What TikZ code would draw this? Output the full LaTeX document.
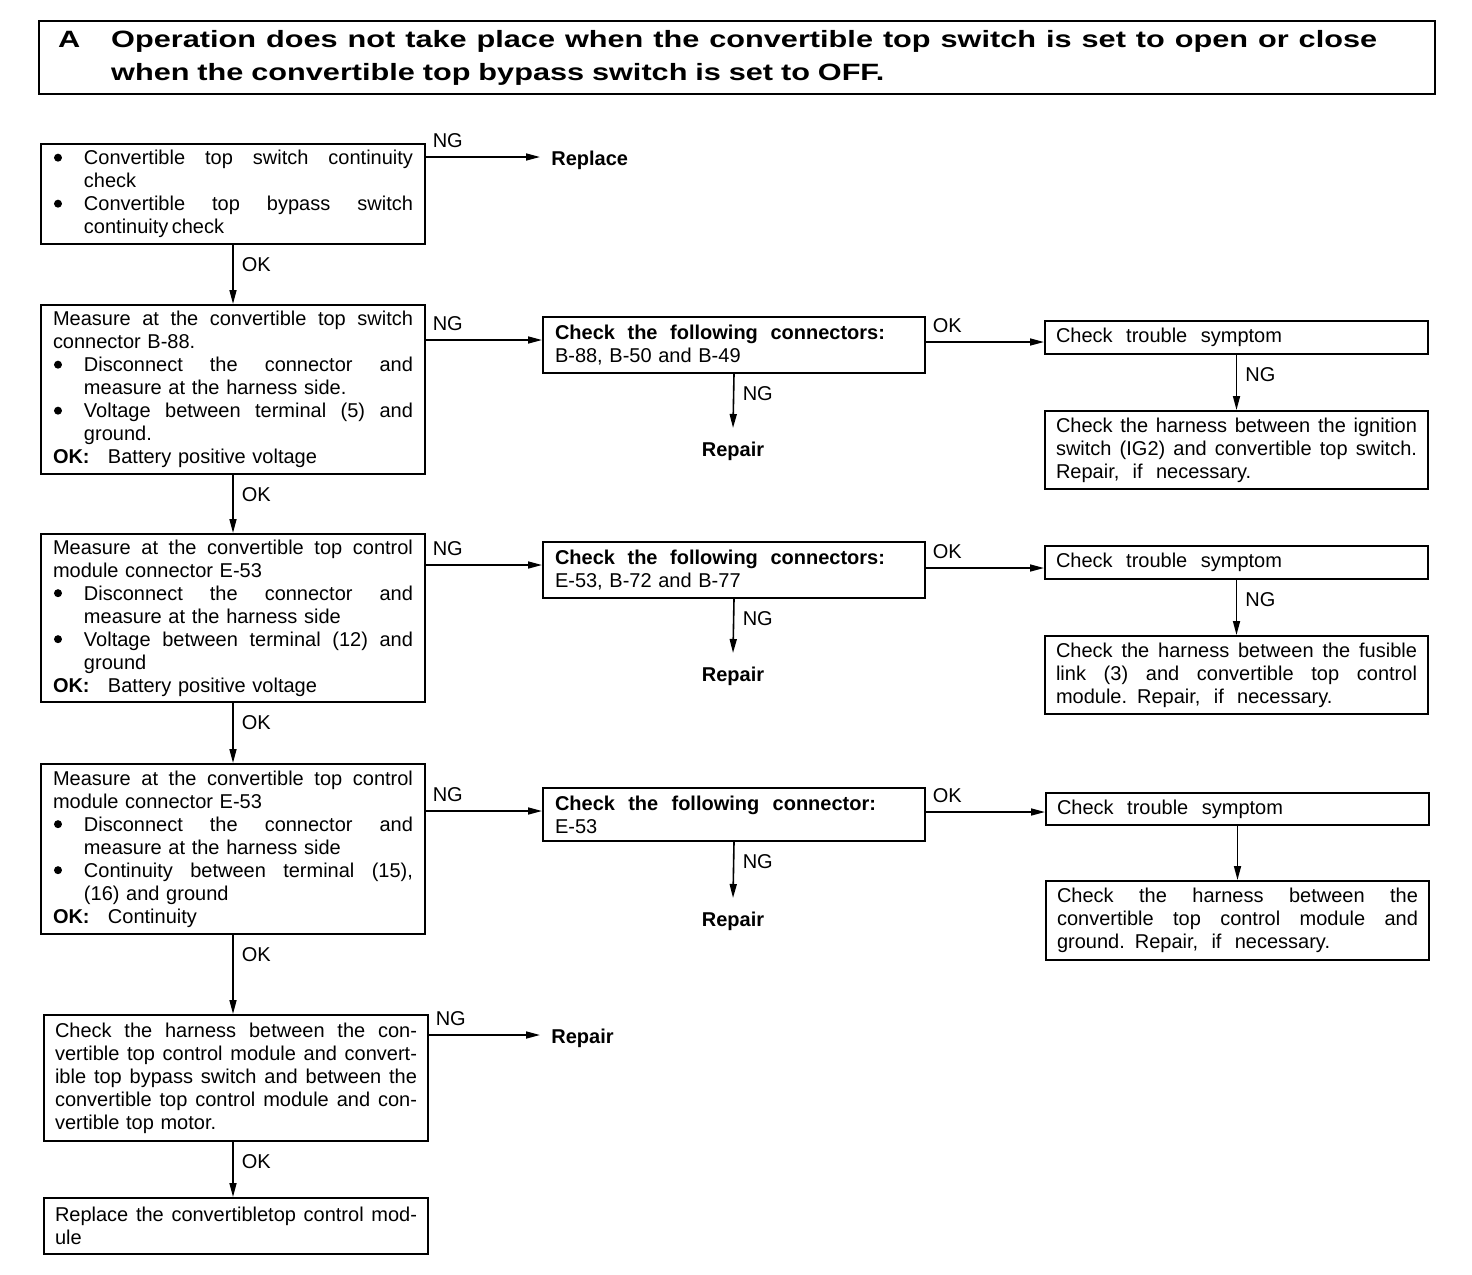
\documentclass[tikz,border=0pt]{standalone}
\usepackage{fontspec}
\setmainfont{Liberation Sans}
\newfontfamily\titlefont{Liberation Sans}[FakeStretch=1.3]
\usetikzlibrary{arrows.meta}
\newcommand\stretchbox[2]{\makebox[#1][s]{\spaceskip=0pt\xspaceskip=0pt #2}}
\newcommand\jl[1]{\stretchbox{\hsize}{#1}}
\newcommand\bdot{\makebox[15.5pt][l]{\hspace{0.5pt}\tikz[baseline={(0pt,-3.5pt)},x=1pt,y=1pt]\fill (2pt,0pt) circle[radius=2pt];}}
\newcommand\bulj[1]{\bdot\stretchbox{\dimexpr\hsize-15.5pt\relax}{#1}}
\newcommand\indl[1]{\hspace*{15.5pt}#1}
\newcommand\okl[1]{\makebox[27.5pt][l]{\textbf{OK:}}#1}
\begin{document}
\begin{tikzpicture}[x=0.5pt,y=-0.5pt,
  font=\fontsize{10}{11.5}\selectfont,
  box/.style={draw, line width=1pt, anchor=north west, align=left, inner ysep=0pt},
  lbox/.style={box, inner xsep=6pt, text width=180pt, minimum width=192pt},
  mbox/.style={box, inner xsep=6pt, text width=179pt, minimum width=191pt},
  rbox/.style={box, inner xsep=5.5pt, text width=180.5pt, minimum width=191.5pt},
  arr/.style={line width=0.8pt, -{Triangle[length=7pt,width=3.5pt]}},
  hlab/.style={pos=0, anchor=south west, inner xsep=3pt, inner ysep=4.5pt},
  vlab/.style={pos=0, anchor=north west, inner sep=0pt, xshift=4pt, yshift=-6pt},
  endtxt/.style={font=\fontsize{10}{11.5}\selectfont\bfseries}
]
\useasboundingbox (0,0) rectangle (1472,1274);

% title
\node[draw, line width=1.2pt, anchor=north west, minimum width=698pt, minimum height=36.5pt,
  text width=679pt, inner xsep=9.5pt, inner ysep=0pt, align=left,
  font=\titlefont\bfseries\fontsize{11.8}{16.5}\selectfont] (title) at (38,20)
  {\makebox[26.5pt][l]{A}\stretchbox{633pt}{Operation does not take place when the convertible top switch is set to open or close}\\
   \hspace*{26.5pt}when the convertible top bypass switch is set to OFF.};

% left column
\node[lbox, minimum height=50pt] (b1) at (40,143)
  {\bulj{Convertible top switch continuity}\\
   \indl{check}\\
   \bulj{Convertible top bypass switch}\\
   \indl{continuity\,check}};
\node[lbox, minimum height=84.5pt] (b2) at (40,304)
  {\jl{Measure at the convertible top switch}\\
   connector B-88.\\
   \bulj{Disconnect the connector and}\\
   \indl{measure at the harness side.}\\
   \bulj{Voltage between terminal (5) and}\\
   \indl{ground.}\\
   \okl{Battery positive voltage}};
\node[lbox, minimum height=84pt] (b3) at (40,533)
  {\jl{Measure at the convertible top control}\\
   module connector E-53\\
   \bulj{Disconnect the connector and}\\
   \indl{measure at the harness side}\\
   \bulj{Voltage between terminal (12) and}\\
   \indl{ground}\\
   \okl{Battery positive voltage}};
\node[lbox, minimum height=85pt] (b4) at (40,763)
  {\jl{Measure at the convertible top control}\\
   module connector E-53\\
   \bulj{Disconnect the connector and}\\
   \indl{measure at the harness side}\\
   \bulj{Continuity between terminal (15),}\\
   \indl{(16) and ground}\\
   \okl{Continuity}};
\node[lbox, inner xsep=5.5pt, text width=181pt, minimum height=63pt] (b5) at (43,1014)
  {\jl{Check the harness between the con-}\\
   \jl{vertible top control module and convert-}\\
   \jl{ible top bypass switch and between the}\\
   \jl{convertible top control module and con-}\\
   vertible top motor.};
\node[lbox, inner xsep=5.5pt, text width=181pt, minimum height=28pt] (b6) at (43,1197)
  {\jl{Replace the convertibletop control mod-}\\
   ule};

% middle column
\node[mbox, minimum height=28pt] (m2) at (542,316)
  {\textbf{\stretchbox{165pt}{Check the following connectors:}}\\
   B-88, B-50 and B-49};
\node[mbox, minimum height=28pt] (m3) at (542,541)
  {\textbf{\stretchbox{165pt}{Check the following connectors:}}\\
   E-53, B-72 and B-77};
\node[mbox, minimum height=26.5pt] (m4) at (542,787)
  {\textbf{\stretchbox{160.5pt}{Check the following connector:}}\\
   E-53};

% right column
\node[rbox, minimum height=16.5pt] (r2) at (1044,320) {\stretchbox{113pt}{Check trouble symptom}};
\node[rbox, minimum height=16.5pt] (r3) at (1044,545) {\stretchbox{113pt}{Check trouble symptom}};
\node[rbox, minimum height=16pt] (r4) at (1045,792) {\stretchbox{113pt}{Check trouble symptom}};
\node[rbox, minimum height=39pt] (s2) at (1044,410)
  {\jl{Check the harness between the ignition}\\
   \jl{switch (IG2) and convertible top switch.}\\
   Repair,\ \ if\ \ necessary.};
\node[rbox, minimum height=39pt] (s3) at (1044,635)
  {\jl{Check the harness between the fusible}\\
   \jl{link (3) and convertible top control}\\
   module. Repair,\ \ if\ \ necessary.};
\node[rbox, minimum height=39.5pt] (s4) at (1045,880)
  {\jl{Check the harness between the}\\
   \jl{convertible top control module and}\\
   ground. Repair,\ \ if\ \ necessary.};

% end texts
\node[endtxt, anchor=west, inner xsep=5.5pt] (replace) at (540,160) {Replace};
\node[endtxt, anchor=north, inner ysep=7pt] (rep2) at (733,428) {Repair};
\node[endtxt, anchor=north, inner ysep=7pt] (rep3) at (733,653) {Repair};
\node[endtxt, anchor=north, inner ysep=7pt] (rep4) at (733,898) {Repair};
\node[endtxt, anchor=west, inner xsep=5.5pt] (rep5) at (540,1038) {Repair};

% helper coordinates
\coordinate (t1) at ([yshift=1.5pt]replace.west);
\coordinate (t5) at ([yshift=1.5pt]rep5.west);
\coordinate (a2) at ([yshift=2.5pt]m2.west);
\coordinate (c2) at ([yshift=-2.25pt]r2.west);
\coordinate (a3) at ([yshift=2.5pt]m3.west);
\coordinate (c3) at ([yshift=-2.75pt]r3.west);
\coordinate (a4) at ([yshift=1.75pt]m4.west);
\coordinate (c4) at ([yshift=-1.5pt]r4.west);

% left column arrows
\draw[arr] (b1.east |- t1) -- node[hlab] (ng1) {NG} (t1);
\draw[arr] (b1.south) -- node[vlab] (ok1) {OK} (b2.north);
\draw[arr] (b2.south) -- node[vlab] (ok2) {OK} (b3.north);
\draw[arr] (b3.south) -- node[vlab] (ok3) {OK} (b4.north);
\draw[arr] (b4.south) -- node[vlab] (ok4) {OK} (b4.south |- b5.north);
\draw[arr] (b4.south |- b5.south) -- node[vlab] (ok5) {OK} (b4.south |- b6.north);
\draw[arr] (b5.east |- t5) -- node[hlab] (ng5) {NG} (t5);

% rows
\draw[arr] (b2.east |- a2) -- node[hlab] (ng2) {NG} (a2);
\draw[arr] (m2.east |- c2) -- node[hlab] (okr2) {OK} (c2);
\draw[arr] (m2.south) -- node[vlab] (ngm2) {NG} (rep2.north);
\draw[arr] (r2.south) -- node[vlab] (ngr2) {NG} (s2.north);

\draw[arr] (b3.east |- a3) -- node[hlab] (ng3) {NG} (a3);
\draw[arr] (m3.east |- c3) -- node[hlab] (okr3) {OK} (c3);
\draw[arr] (m3.south) -- node[vlab] (ngm3) {NG} (rep3.north);
\draw[arr] (r3.south) -- node[vlab] (ngr3) {NG} (s3.north);

\draw[arr] (b4.east |- a4) -- node[hlab] (ng4) {NG} (a4);
\draw[arr] (m4.east |- c4) -- node[hlab] (okr4) {OK} (c4);
\draw[arr] (m4.south) -- node[vlab] (ngm4) {NG} (rep4.north);
\draw[arr] (r4.south) -- (s4.north);
\end{tikzpicture}
\end{document}
